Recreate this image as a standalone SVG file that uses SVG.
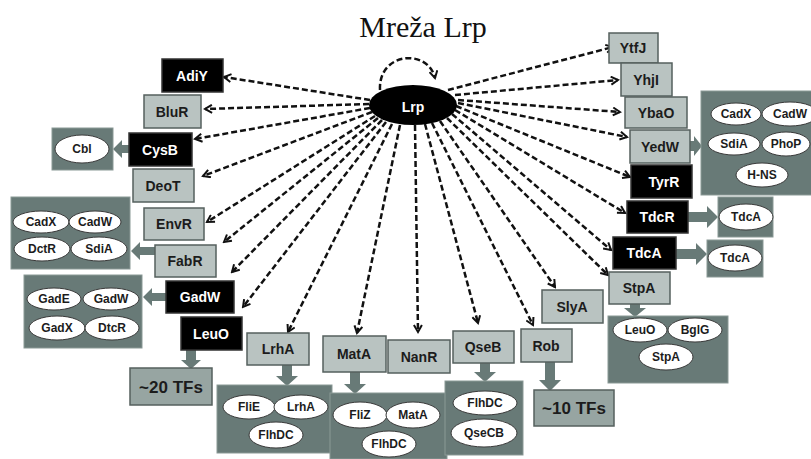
<svg xmlns="http://www.w3.org/2000/svg" width="811" height="459" viewBox="0 0 811 459">
<defs>
<marker id="ah" markerWidth="10" markerHeight="10" refX="8" refY="5" orient="auto" markerUnits="userSpaceOnUse">
<path d="M1,1 L8,5 L1,9" fill="none" stroke="#111" stroke-width="2"/>
</marker>
<style>
.bl{fill:#b9c3c1;stroke:#55605e;stroke-width:1.5}
.bk{fill:#000;stroke:#333;stroke-width:1.5}
.md{fill:#97a5a2;stroke:#55605e;stroke-width:1.5}
.grp{fill:#687a77;stroke:#8a9996;stroke-width:1}
.el{fill:#fff;stroke:#3a3a3a;stroke-width:1}
.ta{fill:#687a77}
.t{font-family:"Liberation Sans",Arial,sans-serif;font-weight:bold;font-size:14px;text-anchor:middle;fill:#1c1c1c}
.tw{font-family:"Liberation Sans",Arial,sans-serif;font-weight:bold;font-size:14px;text-anchor:middle;fill:#fff}
.te{font-family:"Liberation Sans",Arial,sans-serif;font-weight:bold;font-size:12px;text-anchor:middle;fill:#1c1c1c}
.tb{font-family:"Liberation Sans",Arial,sans-serif;font-weight:bold;font-size:17px;text-anchor:middle;fill:#1c1c1c}
.d{fill:none;stroke:#111;stroke-width:2.5;stroke-dasharray:6,3;marker-end:url(#ah)}
</style>
</defs>
<rect width="811" height="459" fill="#fff"/>
<text x="423" y="37" font-family="Liberation Serif,Times New Roman,serif" font-size="30" text-anchor="middle" fill="#111">Mreža Lrp</text>

<g id="connectors">
<path class="d" d="M380,90 C378,52 428,48 435,78"/>
<line class="d" x1="370" y1="100" x2="224" y2="77"/>
<line class="d" x1="369" y1="104" x2="205" y2="109"/>
<line class="d" x1="370" y1="108" x2="195" y2="139"/>
<line class="d" x1="372" y1="112" x2="203" y2="176"/>
<line class="d" x1="375" y1="116" x2="207" y2="222"/>
<line class="d" x1="378" y1="118" x2="224" y2="242"/>
<line class="d" x1="382" y1="120" x2="232" y2="272"/>
<line class="d" x1="386" y1="122" x2="243" y2="307"/>
<line class="d" x1="392" y1="124" x2="288" y2="332"/>
<line class="d" x1="400" y1="125" x2="357" y2="333"/>
<line class="d" x1="415" y1="125" x2="418" y2="332"/>
<line class="d" x1="425" y1="124" x2="478" y2="323"/>
<line class="d" x1="432" y1="123" x2="533" y2="325"/>
<line class="d" x1="440" y1="121" x2="555" y2="287"/>
<line class="d" x1="447" y1="118" x2="608" y2="275"/>
<line class="d" x1="452" y1="114" x2="611" y2="250"/>
<line class="d" x1="455" y1="110" x2="625" y2="213"/>
<line class="d" x1="456" y1="106" x2="630" y2="177"/>
<line class="d" x1="458" y1="103" x2="627" y2="137"/>
<line class="d" x1="458" y1="100" x2="620" y2="112"/>
<line class="d" x1="455" y1="95" x2="618" y2="80"/>
<line class="d" x1="448" y1="90" x2="613" y2="47"/>
<!-- thick gray arrows -->
<polygon class="ta" points="130,145 122,145 122,140 113,149 122,158 122,153 130,153"/>
<polygon class="ta" points="156,247 140,247 140,242 131,251 140,260 140,255 156,255"/>
<polygon class="ta" points="167,293 152,293 152,288 143,297 152,306 152,301 167,301"/>
<polygon class="ta" points="186,350 186,360 181,360 191,369 201,360 196,360 196,350"/>
<polygon class="ta" points="282,365 282,376 276,376 287,386 298,376 292,376 292,365"/>
<polygon class="ta" points="350,372 350,384 344,384 355,394 366,384 360,384 360,372"/>
<polygon class="ta" points="480,363 480,372 474,372 485,382 496,372 490,372 490,363"/>
<polygon class="ta" points="545,362 545,380 539,380 550,391 561,380 555,380 555,362"/>
<polygon class="ta" points="630,304 630,308 624,308 635,317 646,308 640,308 640,304"/>
<polygon class="ta" points="690,141 694,141 694,136 702,146 694,156 694,151 690,151"/>
<polygon class="ta" points="688,212 707,212 707,206 718,217 707,228 707,222 688,222"/>
<polygon class="ta" points="676,249 696,249 696,243 707,254 696,265 696,259 676,259"/>
</g>

<g id="Lrp"><ellipse cx="413" cy="105" rx="44" ry="20" fill="#000"/><text class="tw" x="413" y="112" font-size="19">Lrp</text></g>

<g id="AdiY"><rect class="bk" x="162" y="59" width="61" height="33"/><text class="tw" x="192" y="81">AdiY</text></g>
<g id="BluR"><rect class="bl" x="144" y="95" width="57" height="33"/><text class="t" x="172" y="117">BluR</text></g>
<g id="CysB"><rect class="bk" x="129" y="133" width="63" height="33"/><text class="tw" x="160" y="155">CysB</text></g>
<g id="CysB-targets"><rect class="grp" x="52" y="128" width="61" height="42"/><ellipse class="el" cx="82" cy="149" rx="27" ry="14"/><text class="te" x="82" y="153">Cbl</text></g>
<g id="DeoT"><rect class="bl" x="133" y="169" width="61" height="33"/><text class="t" x="163" y="191">DeoT</text></g>
<g id="EnvR"><rect class="bl" x="144" y="208" width="60" height="32"/><text class="t" x="174" y="229">EnvR</text></g>
<g id="FabR"><rect class="bl" x="155" y="245" width="61" height="32"/><text class="t" x="185" y="266">FabR</text></g>
<g id="FabR-targets"><rect class="grp" x="11" y="197" width="119" height="72"/>
<ellipse class="el" cx="41" cy="222" rx="28" ry="11"/><text class="te" x="41" y="226">CadX</text>
<ellipse class="el" cx="95" cy="222" rx="26" ry="11"/><text class="te" x="95" y="226">CadW</text>
<ellipse class="el" cx="42" cy="249" rx="28" ry="12"/><text class="te" x="42" y="253">DctR</text>
<ellipse class="el" cx="99" cy="249" rx="28" ry="12"/><text class="te" x="99" y="253">SdiA</text></g>
<g id="GadW"><rect class="bk" x="166" y="281" width="68" height="32"/><text class="tw" x="200" y="302" font-size="15">GadW</text></g>
<g id="GadW-targets"><rect class="grp" x="24" y="275" width="118" height="73"/>
<ellipse class="el" cx="54" cy="299" rx="27" ry="11"/><text class="te" x="54" y="303">GadE</text>
<ellipse class="el" cx="111" cy="299" rx="28" ry="11"/><text class="te" x="111" y="303">GadW</text>
<ellipse class="el" cx="57" cy="328" rx="28" ry="12"/><text class="te" x="57" y="332">GadX</text>
<ellipse class="el" cx="112" cy="328" rx="27" ry="12"/><text class="te" x="112" y="332">DtcR</text></g>
<g id="LeuO"><rect class="bk" x="181" y="317" width="61" height="33"/><text class="tw" x="211" y="339">LeuO</text></g>
<g id="TF20"><rect class="md" x="130" y="368" width="82" height="37"/><text class="tb" x="171" y="393">~20 TFs</text></g>

<g id="LrhA"><rect class="bl" x="247" y="333" width="62" height="32"/><text class="t" x="278" y="354">LrhA</text></g>
<g id="LrhA-targets"><rect class="grp" x="217" y="385" width="115" height="68"/>
<ellipse class="el" cx="249" cy="407" rx="26" ry="12"/><text class="te" x="249" y="411">FliE</text>
<ellipse class="el" cx="301" cy="407" rx="27" ry="12"/><text class="te" x="301" y="411">LrhA</text>
<ellipse class="el" cx="276" cy="435" rx="27" ry="13"/><text class="te" x="276" y="439">FlhDC</text></g>
<g id="MatA"><rect class="bl" x="323" y="336" width="63" height="36"/><text class="t" x="354" y="359">MatA</text></g>
<g id="MatA-targets"><rect class="grp" x="330" y="393" width="117" height="66"/>
<ellipse class="el" cx="360" cy="415" rx="27" ry="13"/><text class="te" x="360" y="419">FliZ</text>
<ellipse class="el" cx="413" cy="415" rx="27" ry="13"/><text class="te" x="413" y="419">MatA</text>
<ellipse class="el" cx="389" cy="444" rx="27" ry="13"/><text class="te" x="389" y="448">FlhDC</text></g>
<g id="NanR"><rect class="bl" x="388" y="340" width="62" height="33"/><text class="t" x="419" y="362">NanR</text></g>
<g id="QseB"><rect class="bl" x="453" y="331" width="61" height="32"/><text class="t" x="483" y="352">QseB</text></g>
<g id="QseB-targets"><rect class="grp" x="445" y="381" width="78" height="74"/>
<ellipse class="el" cx="485" cy="403" rx="32" ry="12"/><text class="te" x="485" y="407">FlhDC</text>
<ellipse class="el" cx="484" cy="433" rx="33" ry="14"/><text class="te" x="484" y="437">QseCB</text></g>
<g id="Rob"><rect class="bl" x="521" y="329" width="51" height="33"/><text class="t" x="546" y="351">Rob</text></g>
<g id="TF10"><rect class="md" x="534" y="390" width="80" height="36"/><text class="tb" x="574" y="414">~10 TFs</text></g>
<g id="SlyA"><rect class="bl" x="542" y="290" width="61" height="33"/><text class="t" x="572" y="312">SlyA</text></g>
<g id="StpA"><rect class="bl" x="609" y="272" width="61" height="32"/><text class="t" x="639" y="293">StpA</text></g>
<g id="StpA-targets"><rect class="grp" x="608" y="316" width="120" height="67"/>
<ellipse class="el" cx="640" cy="330" rx="27" ry="12"/><text class="te" x="640" y="334">LeuO</text>
<ellipse class="el" cx="695" cy="330" rx="27" ry="12"/><text class="te" x="695" y="334">BglG</text>
<ellipse class="el" cx="666" cy="357" rx="27" ry="13"/><text class="te" x="666" y="361">StpA</text></g>

<g id="YtfJ"><rect class="bl" x="609" y="33" width="49" height="30"/><text class="t" x="633" y="53">YtfJ</text></g>
<g id="YhjI"><rect class="bl" x="621" y="63" width="51" height="33"/><text class="t" x="646" y="85">YhjI</text></g>
<g id="YbaO"><rect class="bl" x="625" y="97" width="62" height="31"/><text class="t" x="656" y="118">YbaO</text></g>
<g id="YedW"><rect class="bl" x="630" y="130" width="60" height="33"/><text class="t" x="660" y="152">YedW</text></g>
<g id="YedW-targets"><rect class="grp" x="701" y="91" width="115" height="104"/>
<ellipse class="el" cx="736" cy="114" rx="25" ry="11"/><text class="te" x="736" y="118">CadX</text>
<ellipse class="el" cx="790" cy="114" rx="28" ry="12"/><text class="te" x="790" y="118">CadW</text>
<ellipse class="el" cx="734" cy="144" rx="26" ry="11"/><text class="te" x="734" y="148">SdiA</text>
<ellipse class="el" cx="786" cy="144" rx="24" ry="12"/><text class="te" x="786" y="148">PhoP</text>
<ellipse class="el" cx="762" cy="175" rx="26" ry="12"/><text class="te" x="762" y="179">H-NS</text></g>
<g id="TyrR"><rect class="bk" x="631" y="165" width="61" height="33"/><text class="tw" x="664" y="187">TyrR</text></g>
<g id="TdcR"><rect class="bk" x="627" y="201" width="61" height="32"/><text class="tw" x="657" y="222">TdcR</text></g>
<g id="TdcR-targets"><rect class="grp" x="718" y="197" width="55" height="40"/><ellipse class="el" cx="746" cy="217" rx="27" ry="13"/><text class="te" x="746" y="221">TdcA</text></g>
<g id="TdcA"><rect class="bk" x="613" y="237" width="63" height="32"/><text class="tw" x="644" y="258">TdcA</text></g>
<g id="TdcA-targets"><rect class="grp" x="707" y="240" width="56" height="37"/><ellipse class="el" cx="735" cy="258" rx="27" ry="13"/><text class="te" x="735" y="262">TdcA</text></g>
</svg>
